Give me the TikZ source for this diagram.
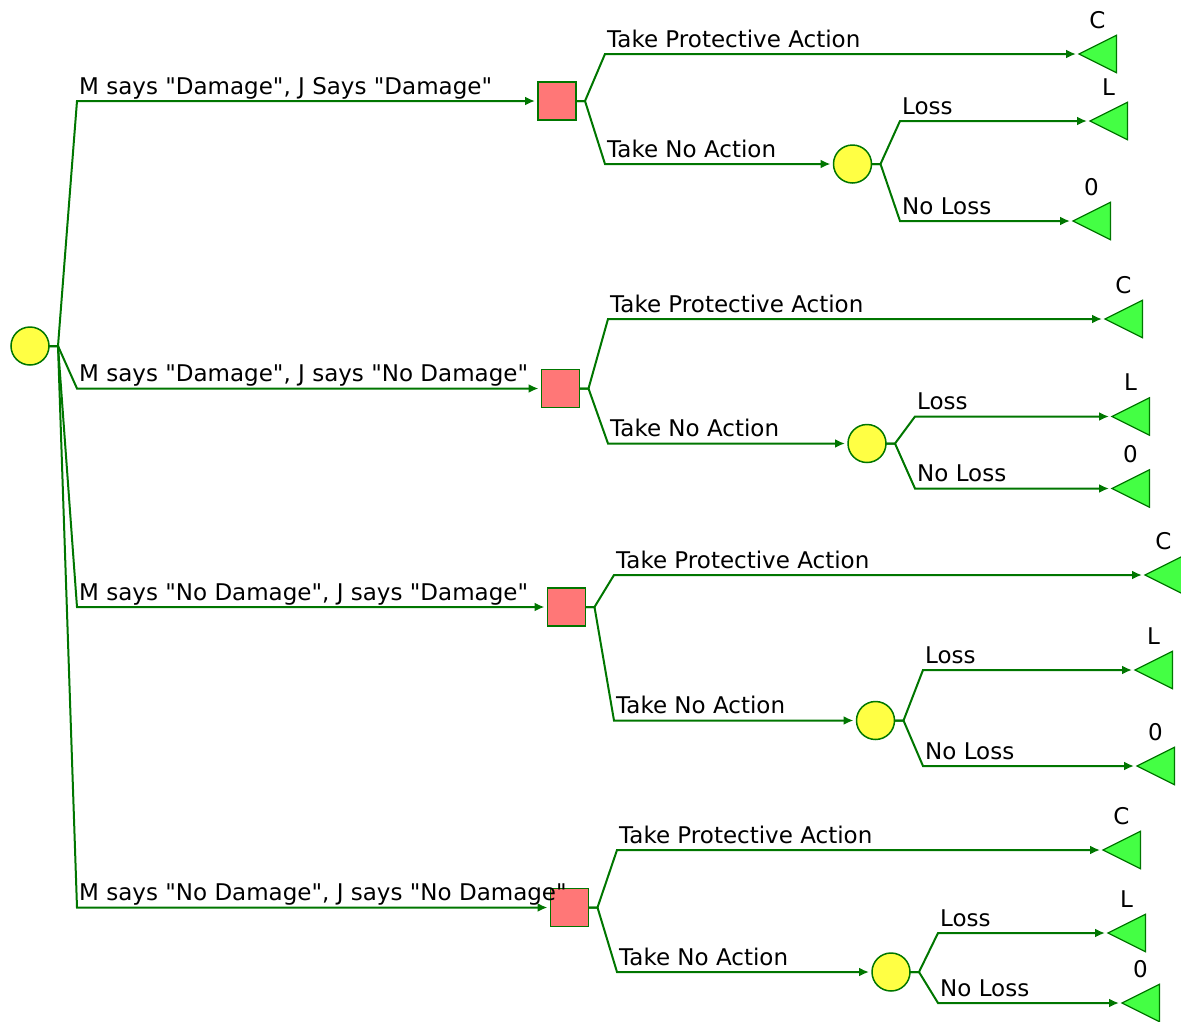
\documentclass[tikz,border=0pt]{standalone}
\usepackage{fontspec}
\setmainfont{DejaVu Sans}[Ligatures=TeXOff]
\usetikzlibrary{arrows.meta,shapes.geometric}
\definecolor{edgegreen}{RGB}{0,118,0}
\definecolor{decfill}{RGB}{255,119,119}
\definecolor{chfill}{RGB}{255,255,68}
\definecolor{endfill}{RGB}{68,255,68}
\begin{document}
\begin{tikzpicture}[x=1pt,y=-1pt,
  font=\fontsize{23}{27}\selectfont,
  decision/.style={draw=edgegreen, line width=1.5pt, fill=decfill, minimum size=38pt, inner sep=0pt, outer sep=0pt},
  chance/.style={circle, draw=edgegreen, line width=1.5pt, fill=chfill, minimum size=38pt, inner sep=0pt, outer sep=0pt},
  terminal/.style={isosceles triangle, isosceles triangle stretches, shape border rotate=180,
    draw=edgegreen, line width=1.2pt, fill=endfill, minimum width=37.5pt, minimum height=37.5pt,
    inner sep=0pt, outer sep=0pt, anchor=apex},
  branch/.style={draw=edgegreen, line width=2pt, -{Latex[length=10pt,width=9pt]}, shorten >=3pt},
  lbl/.style={anchor=base west, inner sep=0pt},
  pay/.style={anchor=base, inner sep=0pt}]
\useasboundingbox (0,0) rectangle (1181,1021);

% ---------- nodes ----------
\node[chance] (root) at (30,346) {};

\node[decision] (dA) at (557,101) {};
\node[decision] (dB) at (560.5,388.5) {};
\node[decision] (dC) at (566.5,607) {};
\node[decision] (dD) at (569.5,907.5) {};

\node[chance] (cA) at (852.5,164) {};
\node[chance] (cB) at (867,443.5) {};
\node[chance] (cC) at (875.5,720.5) {};
\node[chance] (cD) at (891,972) {};

\node[terminal] (tA1) at (1079,54) {};
\node[terminal] (tA2) at (1090,121) {};
\node[terminal] (tA3) at (1073,221) {};
\node[terminal] (tB1) at (1105,319) {};
\node[terminal] (tB2) at (1112,416.5) {};
\node[terminal] (tB3) at (1112,488.5) {};
\node[terminal] (tC1) at (1145,575) {};
\node[terminal] (tC2) at (1135,670) {};
\node[terminal] (tC3) at (1137,766) {};
\node[terminal] (tD1) at (1103,850) {};
\node[terminal] (tD2) at (1108,933) {};
\node[terminal] (tD3) at (1122,1003) {};

% ---------- root branches ----------
\draw[branch] (root.east) -- ++(9,0) -- (77,101) -- (dA);
\draw[branch] (root.east) -- ++(9,0) -- (77,388.5) -- (dB);
\draw[branch] (root.east) -- ++(9,0) -- (77,607) -- (dC);
\draw[branch] (root.east) -- ++(9,0) -- (77,907.5) -- (dD);

\node[lbl] (mA) at (79,94) {M says "Damage", J Says "Damage"};
\node[lbl] (mB) at (79,381.5) {M says "Damage", J says "No Damage"};
\node[lbl] (mC) at (79,600) {M says "No Damage", J says "Damage"};
\node[lbl] (mD) at (79,900.5) {M says "No Damage", J says "No Damage"};

% ---------- decision branches ----------
\draw[branch] (dA.east) -- ++(9,0) -- (605,54) -- (tA1.apex);
\draw[branch] (dA.east) -- ++(9,0) -- (605,164) -- (cA);
\draw[branch] (dB.east) -- ++(9,0) -- (608,319) -- (tB1.apex);
\draw[branch] (dB.east) -- ++(9,0) -- (608,443.5) -- (cB);
\draw[branch] (dC.east) -- ++(9,0) -- (614,575) -- (tC1.apex);
\draw[branch] (dC.east) -- ++(9,0) -- (614,720.5) -- (cC);
\draw[branch] (dD.east) -- ++(9,0) -- (617,850) -- (tD1.apex);
\draw[branch] (dD.east) -- ++(9,0) -- (617,972) -- (cD);

\node[lbl] (aA1) at (607,47) {Take Protective Action};
\node[lbl] (aA2) at (607,157) {Take No Action};
\node[lbl] (aB1) at (610,312) {Take Protective Action};
\node[lbl] (aB2) at (610,436.5) {Take No Action};
\node[lbl] (aC1) at (616,568) {Take Protective Action};
\node[lbl] (aC2) at (616,713.5) {Take No Action};
\node[lbl] (aD1) at (619,843) {Take Protective Action};
\node[lbl] (aD2) at (619,965) {Take No Action};

% ---------- chance branches ----------
\draw[branch] (cA.east) -- ++(9,0) -- (900,121) -- (tA2.apex);
\draw[branch] (cA.east) -- ++(9,0) -- (900,221) -- (tA3.apex);
\draw[branch] (cB.east) -- ++(9,0) -- (915,416.5) -- (tB2.apex);
\draw[branch] (cB.east) -- ++(9,0) -- (915,488.5) -- (tB3.apex);
\draw[branch] (cC.east) -- ++(9,0) -- (923,670) -- (tC2.apex);
\draw[branch] (cC.east) -- ++(9,0) -- (923,766) -- (tC3.apex);
\draw[branch] (cD.east) -- ++(9,0) -- (938,933) -- (tD2.apex);
\draw[branch] (cD.east) -- ++(9,0) -- (938,1003) -- (tD3.apex);

\node[lbl] (oA1) at (902,114) {Loss};
\node[lbl] (oA2) at (902,214) {No Loss};
\node[lbl] (oB1) at (917,409.5) {Loss};
\node[lbl] (oB2) at (917,481.5) {No Loss};
\node[lbl] (oC1) at (925,663) {Loss};
\node[lbl] (oC2) at (925,759) {No Loss};
\node[lbl] (oD1) at (940,926) {Loss};
\node[lbl] (oD2) at (940,996) {No Loss};

% ---------- payoffs ----------
\node[pay] (pA1) at (1097.5,28) {C};
\node[pay] (pA2) at (1108.5,95) {L};
\node[pay] (pA3) at (1091.5,195) {0};
\node[pay] (pB1) at (1123.5,293) {C};
\node[pay] (pB2) at (1130.5,390.5) {L};
\node[pay] (pB3) at (1130.5,462.5) {0};
\node[pay] (pC1) at (1163.5,549) {C};
\node[pay] (pC2) at (1153.5,644) {L};
\node[pay] (pC3) at (1155.5,740) {0};
\node[pay] (pD1) at (1121.5,824) {C};
\node[pay] (pD2) at (1126.5,907) {L};
\node[pay] (pD3) at (1140.5,977) {0};
\end{tikzpicture}
\end{document}
